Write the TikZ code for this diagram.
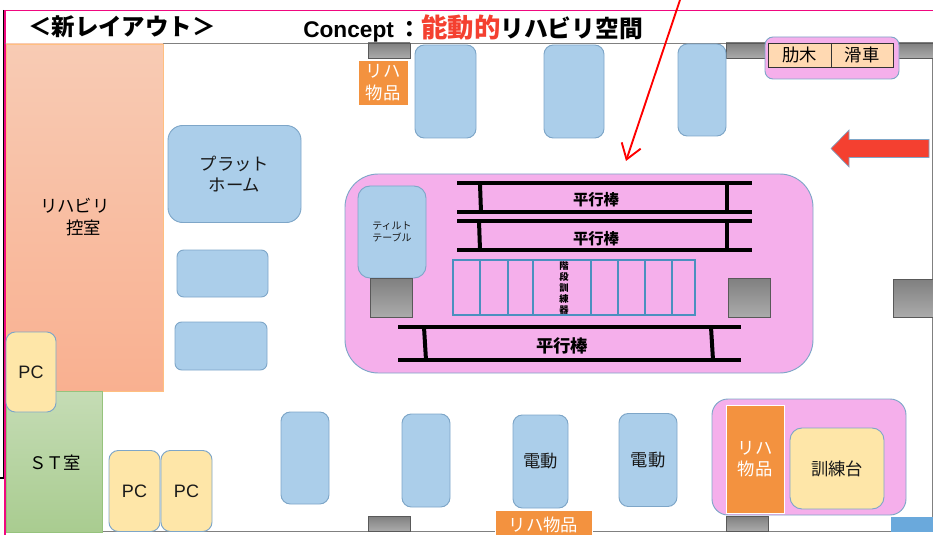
\documentclass[tikz,border=0pt]{standalone}
\usepackage{fontspec}
\setmainfont{Noto Sans CJK JP}
\newfontfamily\latinfont{Liberation Sans}
\usepackage{tikz}
\usetikzlibrary{arrows.meta}
\definecolor{bedblue}{HTML}{ABCEEA}
\definecolor{bedline}{HTML}{7EA6C8}
\definecolor{zonepink}{HTML}{F5AFEB}
\definecolor{pcyellow}{HTML}{FEE6A8}
\definecolor{goodsorange}{HTML}{F3923F}
\definecolor{stepblue}{HTML}{4A90BF}
\definecolor{framepink}{HTML}{F0087F}
\definecolor{arrowred}{HTML}{F44030}
\tikzset{every node/.style={font=\fontsize{13}{16}\selectfont, inner sep=0pt, align=center}}

\begin{document}
\begin{tikzpicture}[
  x=0.75pt, y=-0.75pt,
  sz/.style 2 args={minimum width=#1*0.75pt, minimum height=#2*0.75pt},
  bed/.style={shape=rectangle, draw=bedline, fill=bedblue, rounded corners=7pt, line width=0.7pt, text=black!90},
  zone/.style={shape=rectangle, draw=bedline, fill=zonepink, rounded corners=12pt, line width=0.7pt},
  pc/.style={bed, fill=pcyellow},
  pctxt/.style={font=\latinfont\fontsize{13.5}{16}\selectfont},
  door/.style={shape=rectangle, draw=black!65, top color=black!50, bottom color=black!33, line width=0.7pt},
  goods/.style={shape=rectangle, draw=white, fill=goodsorange, text=white, line width=0.5pt},
  slat/.style={draw=black!80, fill=orange!30!white, line width=0.7pt},
  bar/.style={line width=3pt, black},
  post/.style={line width=3pt, black},
  wall/.style={draw=black!50, line width=1pt}
]
\useasboundingbox (0,0) rectangle (933,535);

% frame
\draw[black, line width=1.1pt] (3.5,10) -- (3.5,478) -- (0,478);
\draw[framepink, line width=1.1pt] (5,10.5) -- (933,10.5);
\draw[framepink, line width=1.1pt] (4.8,10.5) -- (4.8,535);
\draw[wall] (5,43.5) -- (933,43.5);
\draw[wall] (100,531.5) -- (933,531.5);
\draw[wall] (932.5,43.5) -- (932.5,531.5);

% title
\path (122,27) node (title) {\fontsize{17.6}{20}\selectfont\bfseries ＜新レイアウト＞};
\path (303,28) node[anchor=west] (concept) {\bfseries{\latinfont\fontsize{17}{20}\selectfont Concept}\hspace{3.5pt}\fontsize{17}{20}\selectfont ：\fontsize{19.8}{20}\selectfont\color{arrowred}能動的\fontsize{17.8}{20}\selectfont\color{black}リハビリ空間};

% rooms
\path (84.5,217.5) node[sz={157}{347}, draw=orange!50, top color={rgb,255:red,248;green,203;blue,180}, bottom color={rgb,255:red,249;green,176;blue,144}, line width=0.7pt] (office) {};
\path (75,217) node (officetxt) {リハビリ\\\hspace*{1em}控室};
\path (54,461.5) node[sz={96}{141}, draw={rgb,255:red,150;green,195;blue,125}, top color={rgb,255:red,197;green,220;blue,181}, bottom color={rgb,255:red,169;green,204;blue,144}, line width=0.7pt] (stroom) {};
\path (55,463) node (sttxt) {ＳＴ室};
\path (31,372) node[pc, pctxt, sz={50}{80}] (pc1) {PC};
\path (134.5,491) node[pc, pctxt, sz={51}{81}] (pc2) {PC};
\path (186.5,491) node[pc, pctxt, sz={51}{81}] (pc3) {PC};

% doors
\path (389,50.5) node[door, sz={42}{15}] (d1) {};
\path (747,50.5) node[door, sz={42}{15}] (d2) {};
\path (913,50.5) node[door, sz={40}{15}] (d3) {};
\path (913,298) node[door, sz={40}{38}] (d4) {};
\path (389,523.5) node[door, sz={42}{15}] (d5) {};
\path (747,523.5) node[door, sz={42}{15}] (d6) {};

% top row
\path (383,82.5) node[goods, sz={50}{45}] (g1) {リハ\\物品};
\path (445.5,91.5) node[bed, sz={61}{93}] (b1) {};
\path (574,91.5) node[bed, sz={60}{93}] (b2) {};
\path (702,90) node[bed, sz={48}{92}] (b3) {};
\path (832,58) node[zone, rounded corners=6pt, sz={134}{42}] (z1) {};
\path (799.5,55) node[slat, shape=rectangle, sz={63}{24}] (s1) {肋木};
\path (862,55) node[slat, shape=rectangle, sz={62}{24}] (s2) {滑車};

% entrance arrow
\draw[draw=bedline, fill=arrowred, line width=0.5pt] (831,148.5) -- (849,130) -- (849,139.5) -- (929,139.5)
  -- (929,157.5) -- (849,157.5) -- (849,167) -- cycle;

% left column
\path (234.5,174) node[bed, rounded corners=11pt, sz={133}{97}] (platform) {プラット\\ホーム};
\path (222.5,273.5) node[bed, rounded corners=5pt, sz={91}{47}] (b4) {};
\path (221,346) node[bed, rounded corners=5pt, sz={92}{48}] (b5) {};

% centre zone
\path (579,273.5) node[zone, rounded corners=25pt, sz={468}{199}] (z2) {};
\path (392,232) node[bed, rounded corners=9pt, sz={68}{92}, font=\fontsize{7.5}{9.5}\selectfont] (tilt) {ティルト\\テーブル};
\path (391,297.5) node[door, sz={42}{39}] (d7) {};
\path (749,297.5) node[door, sz={42}{39}] (d8) {};

% parallel bars
\draw[bar] (457,183.5) -- (752,183.5);
\draw[bar] (457,212) -- (752,212);
\draw[post] (480,184) -- (481,212);
\draw[post] (727,184) -- (727,212);
\draw[bar] (457,220.5) -- (752,220.5);
\draw[bar] (457,250) -- (752,250);
\draw[post] (479,221) -- (480,250);
\draw[post] (727,221) -- (727,250);
\draw[bar] (398,327) -- (741,327);
\draw[bar] (398,360) -- (741,360);
\draw[post] (424,327) -- (426,360);
\draw[post] (711,327) -- (713,360);
\path (596,200) node (pb1) {\bfseries\fontsize{11.5}{14}\selectfont 平行棒};
\path (596,239) node (pb2) {\bfseries\fontsize{11.5}{14}\selectfont 平行棒};
\path (562,346) node (pb3) {\bfseries\fontsize{13}{14}\selectfont 平行棒};

% stairs
\draw[stepblue, line width=2pt] (453,260) rectangle (695,315);
\foreach \sx in {480,508,533,591,618,645,672}
  \draw[stepblue, line width=2pt] (\sx,260) -- (\sx,315);
\path (564,288) node[font=\bfseries\fontsize{7}{8.2}\selectfont] (stairs) {階\\段\\訓\\練\\器};

% bottom row
\path (305,458) node[bed, sz={48}{92}] (b6) {};
\path (426,460.5) node[bed, sz={48}{93}] (b7) {};
\path (540.5,461.5) node[bed, sz={55}{93}] (b8) {電動};
\path (648,460) node[bed, sz={58}{93}] (b9) {電動};
\path (543.5,525) node[goods, sz={97}{30}] (g2) {リハ物品};
\path (809,457) node[zone, sz={194}{116}] (z3) {};
\path (755,459) node[goods, sz={58}{108}] (g3) {リハ\\物品};
\path (837,468.5) node[pc, rounded corners=9pt, sz={94}{81}] (table) {訓練台};
\draw[draw=none, fill={rgb,255:red,106;green,169;blue,220}] (891,517) rectangle (933,532);

% pointer
\coordinate (ptrfrom) at (680,0);
\coordinate (ptrto) at (626,161);
\draw[red, line width=1.4pt, -{Straight Barb[length=11pt, width=15pt, line width=1.4pt]}] (ptrfrom) -- (ptrto);
\end{tikzpicture}
\end{document}
